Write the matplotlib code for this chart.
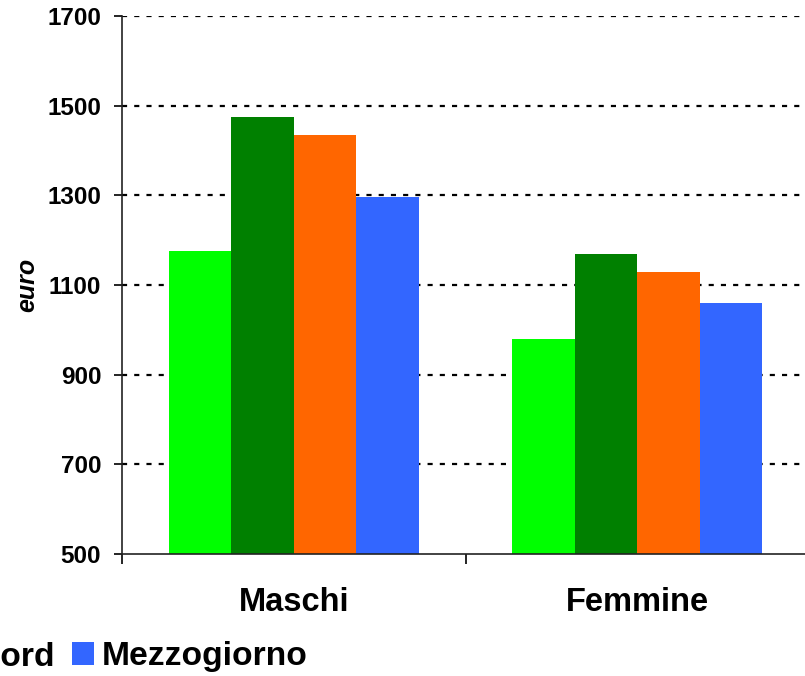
import matplotlib
matplotlib.use("Agg")
import matplotlib.pyplot as plt
import numpy as np

plt.rcParams['font.family'] = ['Liberation Sans', 'DejaVu Sans']
plt.rcParams['font.weight'] = 'bold'

# data
categories = ['Maschi', 'Femmine']
series = ['Italia', 'Centro', 'Nord', 'Mezzogiorno']
values = [
    [1176, 980],
    [1475, 1169],
    [1435, 1129],
    [1296, 1060],
]
colors = ['#00ff00', '#008000', '#ff6600', '#3366ff']
yticks = [500, 700, 900, 1100, 1300, 1500, 1700]

fig = plt.figure(figsize=(8.05, 6.76), dpi=100)
ax = fig.add_axes([122/805, 122/676, (809-122)/805, (554-16)/676])

x = np.arange(len(categories))
width = 0.182
for i, (name, vals) in enumerate(zip(series, values)):
    ax.bar(x + (i - 1.5) * width, vals, width, color=colors[i], label=name, zorder=3)

ax.set_xlim(-0.5, 1.5)
ax.set_ylim(500, 1700)
ax.set_yticks(yticks)
ax.set_yticklabels([str(v) for v in yticks], fontsize=17.5, fontweight='bold')

# dashed gridlines, skip the one on the bottom axis
for v in yticks[1:]:
    ax.axhline(v, color='black', linewidth=1.6, linestyle=(0, (2.3, 3.2)), zorder=1)

ax.set_xticks(x)
ax.set_xticklabels(categories, fontsize=23.5, fontweight='bold')
ax.set_xticks([-0.5, 0.5, 1.5], minor=True)
ax.tick_params(axis='x', which='major', length=0, pad=24)
ax.tick_params(axis='x', which='minor', length=7, width=1.2, direction='out')
ax.tick_params(axis='y', length=6, width=1.2, pad=9)

for s in ['top', 'right']:
    ax.spines[s].set_visible(False)
for s in ['left', 'bottom']:
    ax.spines[s].set_linewidth(1.2)
    ax.spines[s].set_color('#222222')
    ax.spines[s].set_zorder(4)

fig.text(27/805, 1 - 285/676, 'euro', rotation=90, ha='center', va='center',
         fontsize=18, fontweight='bold', fontstyle='italic')

leg = ax.legend(loc='center right', bbox_to_anchor=(308/805, 1 - 657/676),
                bbox_transform=fig.transFigure, ncol=4, frameon=False,
                prop={'weight': 'bold', 'size': 24.2},
                handlelength=0.66, handleheight=0.66, handletextpad=0.24,
                columnspacing=0.5, borderpad=0, borderaxespad=0)

fig.savefig('out.png', dpi=100)
